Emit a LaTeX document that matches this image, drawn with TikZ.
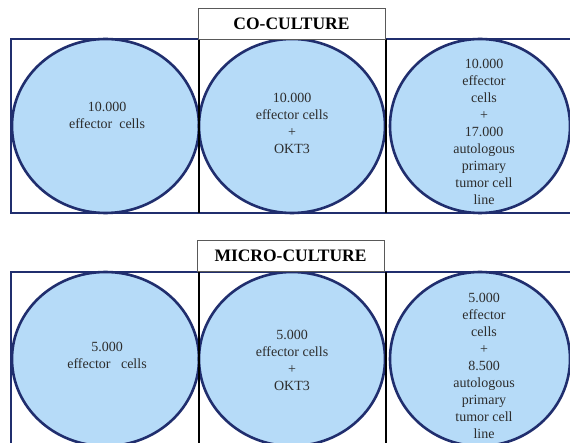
\documentclass[tikz,border=0pt]{standalone}
\usepackage{fontspec}
\setmainfont{Liberation Serif}
\usepackage{tikz}
\usetikzlibrary{shapes.geometric}
\definecolor{wellnavy}{RGB}{32,46,110}
\definecolor{wellblue}{RGB}{182,219,248}
\definecolor{notegray}{RGB}{45,45,45}

\begin{document}
\begin{tikzpicture}[x=1pt, y=-1pt,
    well/.style={ellipse, draw=wellnavy, line width=2.6pt, fill=wellblue, inner sep=0pt, minimum height=174pt},
    note/.style={font=\fontsize{14}{17}\selectfont, text=notegray, align=center},
    header/.style={draw=black!65, line width=0.8pt, fill=white, font=\fontsize{17.5}{20}\selectfont\bfseries,
        minimum width=187pt, minimum height=31pt, inner sep=0pt},
    plate/.style={draw=wellnavy, line width=2.6pt},
    divider/.style={draw=black, line width=2.2pt}]
    \useasboundingbox (0,0) rectangle (570,443);
    \clip (0,0) rectangle (570,443);
    % Co-culture
    \begin{scope}
        \draw[plate] (11,39) rectangle (600,213);
        \node[well, minimum width=187pt] (co1) at (105.5,126) {};
        \node[well, minimum width=186pt] (co2) at (292,126) {};
        \node[well, minimum width=180pt] (co3) at (480,126) {};
        \draw[divider] (199,39) -- (199,213);
        \draw[divider] (386,39) -- (386,213);
        \node[note] (conote1) at (107,115) {10.000\\effector~ cells};
        \node[note] (conote2) at (292,123.5) {10.000\\effector cells\\+\\OKT3};
        \node[note] (conote3) at (484,132) {10.000\\effector\\cells\\+\\17.000\\autologous\\primary\\tumor cell\\line};
        \node[header] (cohead) at (291.5,23.5) {CO-CULTURE};
    \end{scope}
    % Micro-culture
    \begin{scope}
        \draw[plate] (11,272) rectangle (600,460);
        \node[well, minimum width=187pt] (mi1) at (105.5,359) {};
        \node[well, minimum width=186pt] (mi2) at (292,359) {};
        \node[well, minimum width=180pt] (mi3) at (480,359) {};
        \draw[divider] (199,272) -- (199,460);
        \draw[divider] (386,272) -- (386,460);
        \node[note] (minote1) at (107,355) {5.000\\effector~~ cells};
        \node[note] (minote2) at (292,360) {5.000\\effector cells\\+\\OKT3};
        \node[note] (minote3) at (484,366) {5.000\\effector\\cells\\+\\8.500\\autologous\\primary\\tumor cell\\line};
        \node[header] (mihead) at (290.5,255.5) {MICRO-CULTURE};
    \end{scope}
\end{tikzpicture}
\end{document}
